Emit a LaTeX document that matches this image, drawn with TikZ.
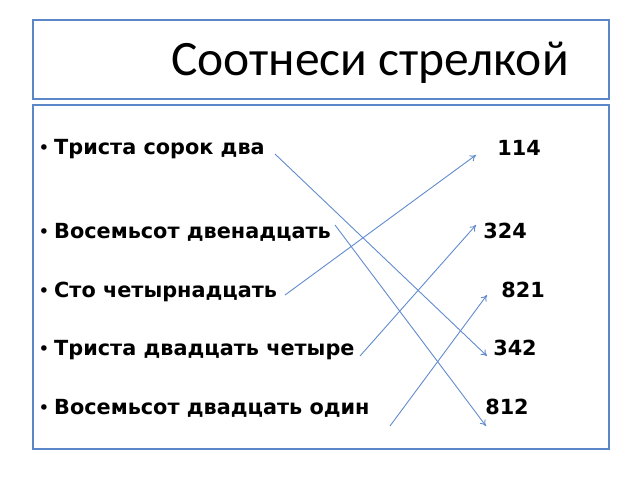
\documentclass[tikz,border=0pt]{standalone}
\usepackage{fontspec}
\setmainfont{DejaVu Sans}
\newfontfamily\titlefont{Carlito}
\usetikzlibrary{arrows.meta}
\definecolor{frameblue}{RGB}{91,134,200}
\definecolor{arrowblue}{RGB}{98,140,205}
\tikzset{
  panel/.style={draw=frameblue, line width=1.5pt},
  item/.style={anchor=base west, inner sep=0pt, font=\fontsize{20.8}{24}\selectfont\bfseries},
  bul/.style={anchor=base, inner sep=0pt, font=\fontsize{19}{22}\selectfont},
  num/.style={anchor=base, inner sep=0pt, font=\fontsize{20.8}{24}\selectfont\bfseries},
  link/.style={draw=arrowblue, line width=0.9pt, -{To[length=6pt,width=7pt]}},
}
\begin{document}
\begin{tikzpicture}[x=1pt,y=-1pt]
\useasboundingbox (0,0) rectangle (640,480);
\fill[white] (0,0) rectangle (640,480);
\node[panel, minimum width=576pt, minimum height=79pt, anchor=north west, inner sep=0pt] (top) at (32,19) {};
\node[panel, minimum width=576pt, minimum height=344pt, anchor=north west, inner sep=0pt] (body) at (32,104) {};
\node[anchor=base, inner sep=0pt, font=\fontsize{49.5}{54}\selectfont\titlefont] (title) at (370,75) {Соотнеси стрелкой};

\node[bul] (b1) at (44,154) {•};
\node[bul] (b2) at (44,238) {•};
\node[bul] (b3) at (44,297) {•};
\node[bul] (b4) at (44,355) {•};
\node[bul] (b5) at (44,414) {•};

\node[item] (w1) at (54,154) {Триста сорок два};
\node[item] (w2) at (54,238) {Восемьсот двенадцать};
\node[item] (w3) at (54,297) {Сто четырнадцать};
\node[item] (w4) at (54,355) {Триста двадцать четыре};
\node[item] (w5) at (54,414) {Восемьсот двадцать один};

\node[num] (n114) at (519,155) {114};
\node[num] (n324) at (505,238) {324};
\node[num] (n821) at (523,297) {821};
\node[num] (n342) at (515,355) {342};
\node[num] (n812) at (507,414) {812};

\coordinate (s1) at (275,154);
\coordinate (e1) at (487,356);
\coordinate (s2) at (285,295);
\coordinate (e2) at (476,155);
\coordinate (s3) at (335,225);
\coordinate (e3) at (486,426);
\coordinate (s4) at (360,356);
\coordinate (e4) at (476,225);
\coordinate (s5) at (390,426);
\coordinate (e5) at (487,295);

\draw[link] (s1) -- (e1);
\draw[link] (s2) -- (e2);
\draw[link] (s3) -- (e3);
\draw[link] (s4) -- (e4);
\draw[link] (s5) -- (e5);
\end{tikzpicture}
\end{document}
